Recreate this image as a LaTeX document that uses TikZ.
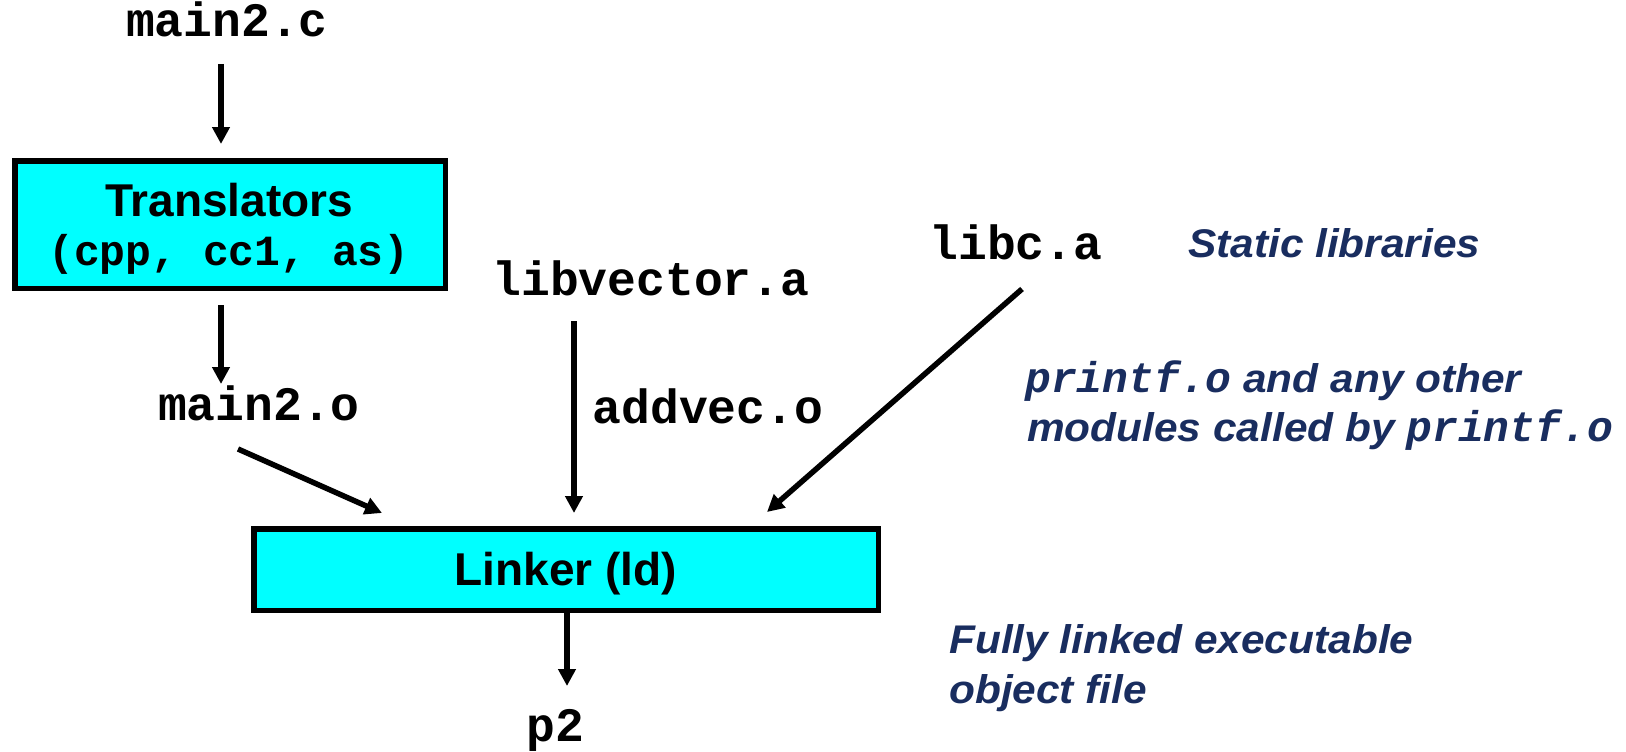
\documentclass[tikz,border=0pt]{standalone}
\usepackage{fontspec}
\setmainfont{Liberation Sans}
\newfontfamily\codefont{Liberation Mono}
\newfontfamily\notefont[FakeStretch=1.06]{Liberation Sans}
\usetikzlibrary{arrows.meta}

\definecolor{boxcyan}{RGB}{0,255,255}
\definecolor{notenavy}{RGB}{25,45,95}

\newcommand\codeit[1]{{\codefont\bfseries\itshape\fontsize{43}{52}\selectfont #1}}

\tikzset{
  file/.style={inner sep=0pt, anchor=base,
    font=\codefont\bfseries\fontsize{48}{58}\selectfont},
  subfile/.style={inner sep=0pt, anchor=base,
    font=\codefont\bfseries\fontsize{43}{52}\selectfont},
  tool/.style={draw=black, line width=5.5pt, fill=boxcyan, inner sep=0pt},
  tooltitle/.style={inner sep=0pt, anchor=base,
    font=\bfseries\fontsize{46}{55}\selectfont},
  note/.style={inner sep=0pt, anchor=base west, text=notenavy,
    font=\notefont\bfseries\itshape\fontsize{40}{48}\selectfont},
  flow/.style={draw=black, line width=5.5pt, -{Triangle[length=17pt,width=17pt]}},
}

\begin{document}
\begin{tikzpicture}[x=1pt, y=-1pt]
  \useasboundingbox (0,0) rectangle (1626,752);

  % translation stage
  \node[file] (m2c) at (227,37) {main2.c};
  \node[tool, minimum width=430.5pt, minimum height=127.5pt] (trans) at (230,224.5) {};
  \node[tooltitle] (transT) at (229,216) {Translators};
  \node[subfile] (transS) at (229,265) {(cpp, cc1, as)};
  \node[file] (m2o) at (259,420) {main2.o};

  % libraries
  \node[file] (libvec) at (651,295) {libvector.a};
  \node[file] (addvec) at (708,423) {addvec.o};
  \node[file] (libc) at (1016,259) {libc.a};

  % linking stage
  \node[tool, minimum width=624.5pt, minimum height=81.5pt] (linker) at (566,569.5) {};
  \node[tooltitle] (linkerT) at (566,585) {Linker (ld)};
  \node[file] (p2) at (555,741) {p2};

  % annotations
  \node[note] (static) at (1188,257) {Static libraries};
  \node[note] (mods1) at (1025,392) {\codeit{printf.o} and any other};
  \node[note] (mods2) at (1027,441) {modules called by \codeit{printf.o}};
  \node[note] (exe1) at (949,653) {Fully linked executable};
  \node[note] (exe2) at (949,703) {object file};

  % connectors
  \draw[flow] ([xshift=-6pt,yshift=-27pt]m2c.base) -- ([xshift=-9pt,yshift=14pt]trans.north);
  \draw[flow] ([xshift=-9pt,yshift=-14pt]trans.south) -- ([xshift=-38pt,yshift=36pt]m2o.base);
  \draw[flow] ([xshift=-21pt,yshift=-29pt]m2o.base) -- ([xshift=131pt,yshift=13pt]linker.north west);
  \draw[flow] ([xshift=-77pt,yshift=-26pt]libvec.base) -- ([xshift=8pt,yshift=13pt]linker.north);
  \draw[flow] ([xshift=6pt,yshift=-30pt]libc.base) -- ([xshift=-114pt,yshift=14pt]linker.north east);
  \draw[flow] ([xshift=1pt]linker.south) -- ([xshift=12pt,yshift=55pt]p2.base);
\end{tikzpicture}
\end{document}
